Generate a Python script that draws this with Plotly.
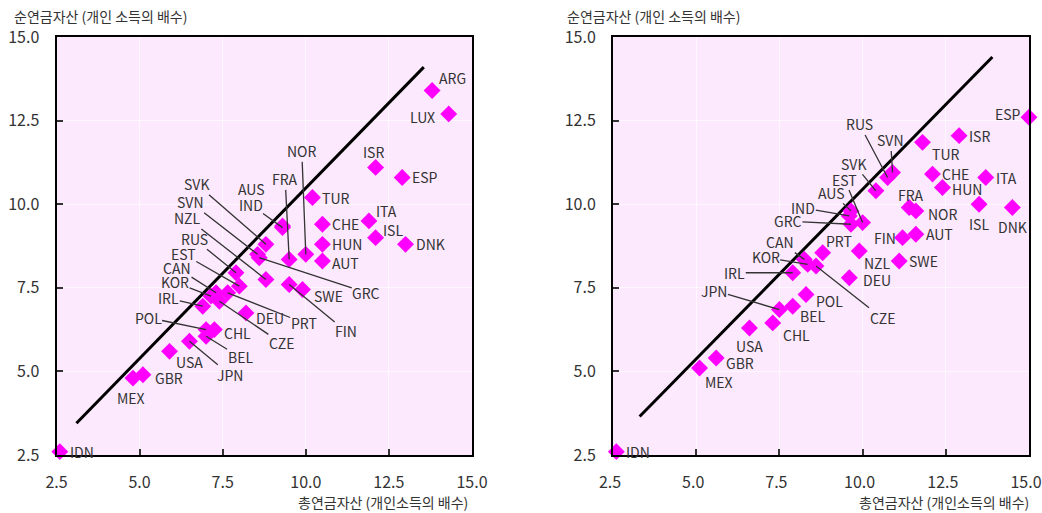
import plotly.graph_objects as go

# ---------------- data ----------------
left_countries = ["IDN", "MEX", "GBR", "USA", "JPN", "BEL", "CHL", "POL", "IRL", "KOR",
                  "CAN", "CZE", "PRT", "EST", "RUS", "DEU", "NZL", "SVN", "GRC", "SVK",
                  "AUS", "IND", "FRA", "FIN", "SWE", "NOR", "TUR", "CHE", "HUN", "AUT",
                  "ISR", "ESP", "ITA", "ISL", "DNK", "ARG", "LUX"]
left_gross = [2.6, 4.8, 5.1, 5.9, 6.5, 7.0, 7.25, 7.0, 6.9, 7.15,
              7.3, 7.4, 7.65, 8.0, 7.9, 8.2, 8.8, 8.55, 8.6, 8.8,
              9.3, 9.3, 9.5, 9.5, 9.9, 10.0, 10.2, 10.5, 10.5, 10.5,
              12.1, 12.9, 11.9, 12.1, 13.0, 13.8, 14.3]
left_net = [2.6, 4.8, 4.9, 5.6, 5.9, 6.05, 6.25, 6.25, 6.95, 7.25,
            7.35, 7.1, 7.35, 7.55, 7.95, 6.75, 7.75, 8.5, 8.4, 8.8,
            9.35, 9.3, 8.35, 7.6, 7.45, 8.5, 10.2, 9.4, 8.8, 8.3,
            11.1, 10.8, 9.5, 9.0, 8.8, 13.4, 12.7]

right_countries = ["IDN", "MEX", "GBR", "USA", "CHL", "JPN", "BEL", "POL", "IRL", "KOR",
                   "CAN", "CZE", "PRT", "DEU", "NZL", "GRC", "IND", "AUS", "EST", "SVK",
                   "RUS", "SVN", "FIN", "AUT", "SWE", "FRA", "NOR", "TUR", "CHE", "HUN",
                   "ISR", "ITA", "ISL", "DNK", "ESP"]
right_gross = [2.6, 5.1, 5.6, 6.6, 7.3, 7.5, 7.9, 8.3, 7.9, 8.35,
               8.25, 8.6, 8.8, 9.6, 9.9, 9.65, 9.6, 9.65, 10.0, 10.4,
               10.75, 10.9, 11.2, 11.6, 11.1, 11.4, 11.6, 11.8, 12.1, 12.4,
               12.9, 13.7, 13.5, 14.5, 15.0]
right_net = [2.6, 5.1, 5.4, 6.3, 6.45, 6.85, 6.95, 7.3, 7.95, 8.2,
             8.35, 8.15, 8.55, 7.8, 8.6, 9.4, 9.65, 9.8, 9.45, 10.4,
             10.8, 10.95, 9.0, 9.1, 8.3, 9.9, 9.8, 11.85, 10.9, 10.5,
             12.05, 10.8, 10.0, 9.9, 12.6]

left_fit_x = [3.1, 13.55]
left_fit_y = [3.45, 14.1]
right_fit_x = [3.3, 13.9]
right_fit_y = [3.65, 14.4]

tick_vals = [2.5, 5.0, 7.5, 10.0, 12.5, 15.0]
tick_text = ["2.5", "5.0", "7.5", "10.0", "12.5", "15.0"]
y_title = "순연금자산 (개인 소득의 배수)"
x_title = "총연금자산 (개인소득의 배수)"

# ---------------- label placement (pixel offsets, style) ----------------
left_labels = {
    "IDN": ("l", 8, 0), "MEX": ("c", -2, 20), "GBR": ("l", 10, 3), "USA": ("c", 20, 11),
    "JPN": ("line", 41, 34), "BEL": ("line", 34, 21), "CHL": ("l", 8, 3),
    "POL": ("line", -58, -12), "IRL": ("line", -34, -8), "KOR": ("line", -36, -14),
    "CAN": ("line", -39, -25), "CZE": ("line", 62, 42), "PRT": ("line", 76, 30),
    "EST": ("line", -56, -32), "RUS": ("line", -42, -34), "DEU": ("l", 8, 5),
    "NZL": ("line", -78, -61), "SVN": ("line", -67, -52), "GRC": ("line", 107, 35),
    "SVK": ("line", -69, -60), "AUS": ("c", -31, -37), "IND": ("line", -32, -23),
    "FRA": ("line", -4, -80), "FIN": ("line", 57, 47), "SWE": ("l", 10, 7),
    "NOR": ("line", -4, -103), "TUR": ("l", 8, 0), "CHE": ("l", 8, 0),
    "HUN": ("l", 8, 0), "AUT": ("l", 8, 2), "ISR": ("c", -2, -15), "ESP": ("l", 8, 0),
    "ITA": ("l", 5, -10), "ISL": ("l", 5, -8), "DNK": ("l", 8, 0),
    "ARG": ("l", 5, -13), "LUX": ("r", -12, 3),
}
right_labels = {
    "IDN": ("l", 8, 0), "MEX": ("l", 3, 14), "GBR": ("l", 8, 5), "USA": ("c", 0, 18),
    "CHL": ("l", 8, 12), "JPN": ("line", -65, -19), "BEL": ("l", 5, 10),
    "POL": ("l", 8, 7), "IRL": ("line", -58, 0), "KOR": ("line", -42, -7),
    "CAN": ("line", -24, -17), "CZE": ("line", 66, 52), "PRT": ("c", 16, -12),
    "DEU": ("l", 12, 2), "NZL": ("l", 3, 12), "GRC": ("line", -63, -3),
    "IND": ("line", -46, -8), "AUS": ("line", -19, -18), "EST": ("line", -18, -43),
    "SVK": ("line", -22, -27), "RUS": ("line", -28, -53), "SVN": ("line", -2, -32),
    "FIN": ("r", -5, 0), "AUT": ("l", 8, 0), "SWE": ("l", 8, 0), "FRA": ("c", 2, -13),
    "NOR": ("l", 10, 3), "TUR": ("l", 7, 12), "CHE": ("l", 8, 0), "HUN": ("l", 8, 2),
    "ISR": ("l", 8, 0), "ITA": ("l", 8, 1), "ISL": ("c", 0, 20), "DNK": ("c", 0, 19),
    "ESP": ("r", -6, -3),
}

FONT = "Noto Sans CJK KR, Noto Sans, sans-serif"
TXT = "#333333"
BG = "#FDE9FD"
MAG = "#FF00FF"

fig = go.Figure()

panels = [
    ("x", "y", left_countries, left_gross, left_net, left_fit_x, left_fit_y, left_labels),
    ("x2", "y2", right_countries, right_gross, right_net, right_fit_x, right_fit_y, right_labels),
]

annotations = []
for xr, yr, cs, gx, ny, fx, fy, labels in panels:
    fig.add_trace(go.Scatter(x=fx, y=fy, mode="lines", xaxis=xr, yaxis=yr,
                             line=dict(color="black", width=3), hoverinfo="skip",
                             showlegend=False))
    fig.add_trace(go.Scatter(x=gx, y=ny, mode="markers", xaxis=xr, yaxis=yr,
                             text=cs, cliponaxis=False,
                             marker=dict(symbol="diamond", size=13, color=MAG,
                                         line=dict(width=0)),
                             showlegend=False))
    for c, x, y in zip(cs, gx, ny):
        mode, dx, dy = labels[c]
        base = dict(x=x, y=y, xref=xr, yref=yr, text=c,
                    font=dict(family=FONT, size=14, color=TXT))
        if mode == "line":
            annotations.append(dict(base, showarrow=True, ax=dx, ay=dy,
                                    arrowhead=0, arrowwidth=1.3, arrowcolor=TXT,
                                    standoff=0, borderpad=0))
        else:
            anchor = {"l": "left", "r": "right", "c": "center"}[mode]
            annotations.append(dict(base, showarrow=False, xanchor=anchor,
                                    yanchor="middle", xshift=dx, yshift=-dy))

# axis titles
annotations += [
    dict(x=12 / 1042, y=1 - 16 / 513, xref="paper", yref="paper", text=y_title,
         showarrow=False, xanchor="left", yanchor="middle",
         font=dict(family=FONT, size=14, color=TXT)),
    dict(x=565 / 1042, y=1 - 16 / 513, xref="paper", yref="paper", text=y_title,
         showarrow=False, xanchor="left", yanchor="middle",
         font=dict(family=FONT, size=14, color=TXT)),
    dict(x=470 / 1042, y=1 - 502 / 513, xref="paper", yref="paper", text=x_title,
         showarrow=False, xanchor="right", yanchor="middle",
         font=dict(family=FONT, size=14, color=TXT)),
    dict(x=1031 / 1042, y=1 - 502 / 513, xref="paper", yref="paper", text=x_title,
         showarrow=False, xanchor="right", yanchor="middle",
         font=dict(family=FONT, size=14, color=TXT)),
]

ax_common = dict(range=[2.5, 15], tickvals=tick_vals, ticktext=tick_text,
                 showline=True, linecolor="black", linewidth=2, mirror=True,
                 ticks="inside", ticklen=6, tickcolor="#333333", tickwidth=1.5,
                 showgrid=True, gridcolor="#FFF6FF", gridwidth=1, zeroline=False,
                 tickfont=dict(family=FONT, size=16, color=TXT), fixedrange=True,
                 automargin=False, ticklabeloverflow="allow")

y0, y1 = 1 - 455 / 513, 1 - 37 / 513
fig.update_layout(
    width=1042, height=513,
    margin=dict(l=0, r=0, t=0, b=0, autoexpand=False),
    paper_bgcolor="white", plot_bgcolor=BG,
    xaxis=dict(ax_common, domain=[56.5 / 1042, 472 / 1042], anchor="y",
               ticklabelstandoff=12),
    yaxis=dict(ax_common, domain=[y0, y1], anchor="x", ticklabelstandoff=12),
    xaxis2=dict(ax_common, domain=[613 / 1042, 1029 / 1042], anchor="y2",
                ticklabelstandoff=12, ticklabelshift=-3),
    yaxis2=dict(ax_common, domain=[y0, y1], anchor="x2", ticklabelstandoff=12),
    annotations=annotations,
    showlegend=False,
)

fig.write_html("out.html", config={"displayModeBar": False},
               post_script="document.body.style.margin='0px';"
                           "document.body.style.overflow='hidden';")
